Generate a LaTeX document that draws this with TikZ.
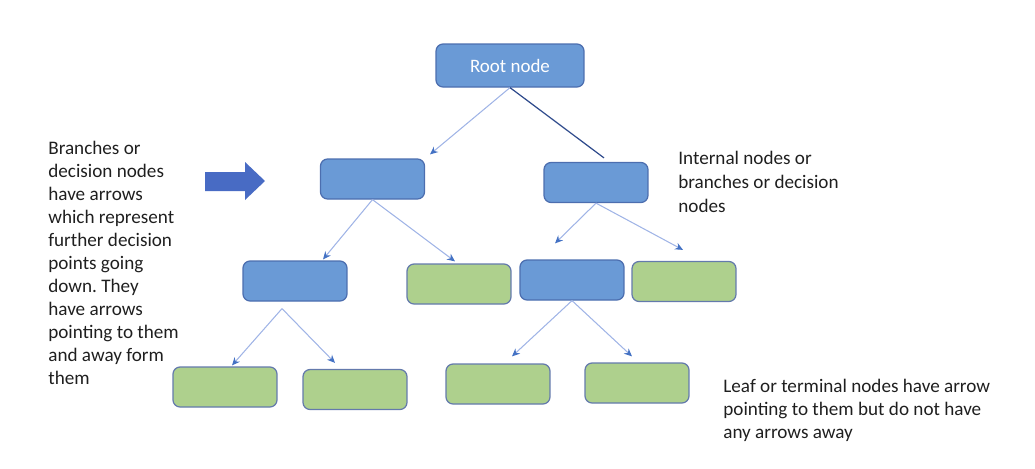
\documentclass[tikz,border=0pt]{standalone}
\usepackage{fontspec}
\setmainfont{Carlito}
\usetikzlibrary{arrows.meta,calc}

\definecolor{boxblue}{RGB}{106,154,214}
\definecolor{boxline}{RGB}{76,110,175}
\definecolor{leafgreen}{RGB}{174,208,141}
\definecolor{leafline}{RGB}{100,122,172}
\definecolor{linklight}{RGB}{160,180,230}
\definecolor{tipblue}{RGB}{68,114,196}
\definecolor{rootline}{RGB}{47,75,140}
\definecolor{bigblue}{RGB}{72,107,196}

\frenchspacing
\begin{document}
\begin{tikzpicture}[x=0.02cm, y=-0.02cm,
    >={Stealth[length=4.5pt,width=4pt,color=tipblue]},
    decision/.style={draw=boxline, fill=boxblue, line width=0.7pt, rounded corners=4pt,
        minimum width=2.08cm, minimum height=0.8cm},
    leaf/.style={draw=leafline, fill=leafgreen, line width=0.7pt, rounded corners=4pt,
        minimum width=2.08cm, minimum height=0.8cm},
    link/.style={->, draw=linklight, line width=0.6pt},
    note/.style={anchor=north west, align=left, inner sep=0pt, text=black!88,
        font=\fontsize{10.9}{13.1}\selectfont}]
    \useasboundingbox (0,0) rectangle (1035,468);

    % Tree nodes
    \node[decision, minimum width=2.96cm, minimum height=0.86cm,
        text=white, font=\fontsize{10.8}{13}\selectfont] (root) at (510,65.5) {Root node};
    \node[decision] (dA) at (372.5,179) {};
    \node[decision] (dB) at (596,182.5) {};
    \node[decision] (dC) at (295,281) {};
    \node[leaf] (gA) at (459,284) {};
    \node[decision] (dD) at (572,280) {};
    \node[leaf] (gB) at (684,281.5) {};
    \node[leaf] (lA) at (225,387) {};
    \node[leaf] (lB) at (355,389.5) {};
    \node[leaf] (lC) at (498,384) {};
    \node[leaf] (lD) at (637,383) {};

    % Links between levels
    \draw[link] (root.south) -- ($(dA.north)+(57.5,-4)$);
    \draw[rootline, line width=0.7pt] (root.south) -- ($(dB.north)+(8,-4)$);
    \draw[link] (dA.south) -- ($(dC.north)+(28,-1)$);
    \draw[link] (dA.south) -- ($(gA.north)+(-4,-2)$);
    \draw[link] (dB.south) -- ($(dD.north)+(-17,-16)$);
    \draw[link] (dB.south) -- ($(gB.north)+(-1,-11)$);
    \draw[link] ($(dC.south)+(-13,7)$) -- ($(lA.north)+(7,-1)$);
    \draw[link] ($(dC.south)+(-13,7)$) -- ($(lB.north)+(-20,-6)$);
    \draw[link] (dD.south) -- ($(lC.north)+(14,-7)$);
    \draw[link] (dD.south) -- ($(lD.north)+(-5,-6)$);

    % Block arrow
    \fill[bigblue] (205,172) -- (245,172) -- (245,162) -- (265,181)
        -- (245,200) -- (245,191) -- (205,191) -- cycle;

    % Notes
    \node[note] (branchnote) at (48,141) {Branches or\\decision nodes\\have arrows\\which represent\\further decision\\points going\\down. They\\have arrows\\pointing to them\\and away form\\them};
    \node[note, font=\fontsize{10.9}{13.7}\selectfont] (internalnote) at (678,151) {Internal nodes or\\branches or decision\\nodes};
    \node[note] (leafnote) at (723,379) {Leaf or terminal nodes have arrow\\pointing to them but do not have\\any arrows away};
\end{tikzpicture}
\end{document}
